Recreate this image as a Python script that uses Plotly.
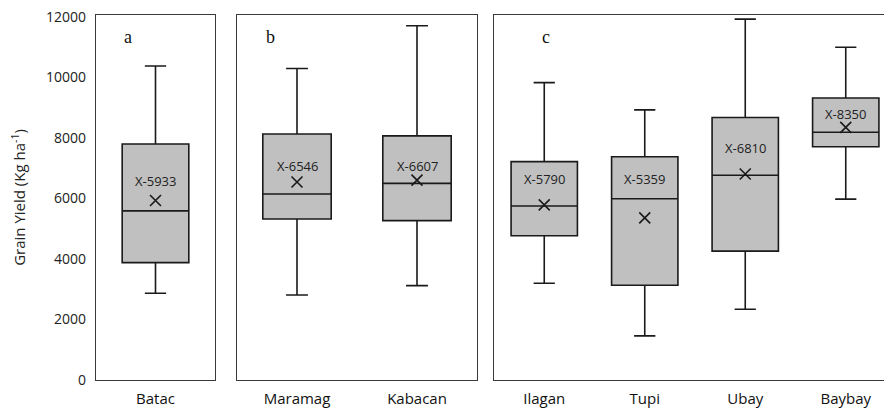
import plotly.graph_objects as go

# ---- data ----
panel_a = ["Batac"]
panel_b = ["Maramag", "Kabacan"]
panel_c = ["Ilagan", "Tupi", "Ubay", "Baybay"]

sites = panel_a + panel_b + panel_c
lower = [2870, 2810, 3120, 3200, 1460, 2340, 5980]
q1 = [3880, 5320, 5270, 4770, 3130, 4260, 7710]
median = [5590, 6150, 6500, 5750, 5990, 6770, 8190]
q3 = [7800, 8130, 8070, 7220, 7380, 8680, 9320]
upper = [10380, 10300, 11710, 9830, 8930, 11930, 11000]
mean = [5933, 6546, 6607, 5790, 5359, 6810, 8350]
panel_letters = ["a", "b", "c"]
y_ticks = [0, 2000, 4000, 6000, 8000, 10000, 12000]
y_tick_text = [str(v) for v in y_ticks]

# ---- styling ----
OFF = 8  # page body margin
W, H = 892 - OFF, 409 - OFF
label_shift = [20, 16, 14, 26, 39, 26, 13]  # pixel offset of mean label above marker
letter_shift = [-28, -27, 2]
panels = [
    (panel_a, (96, 215), "x", "y", 0.56),
    (panel_b, (237, 477), "x2", "y2", 0.57),
    (panel_c, (494, 896), "x3", "y3", 0.66),
]
y_top_px, y_bot_px = 15, 380
ymax = 12000 * (y_bot_px - y_top_px) / (y_bot_px - 17)

fig = go.Figure()
layout = dict(
    width=W, height=H, template="none",
    margin=dict(l=0, r=0, t=0, b=0),
    paper_bgcolor="white", plot_bgcolor="white",
    showlegend=False,
    font=dict(family="Open Sans, Liberation Sans, sans-serif", size=13, color="#222"),
)
line_col = "#3a3a3a"
dark = "#1a1a1a"
annotations = []
for p, (cats, (x0, x1), xa, ya, bw) in enumerate(panels):
    for c in cats:
        i = sites.index(c)
        fig.add_trace(go.Box(
            x=[c], q1=[q1[i]], median=[median[i]], q3=[q3[i]],
            lowerfence=[lower[i]], upperfence=[upper[i]],
            fillcolor="#c0c0c0", line=dict(color=dark, width=1.6),
            width=bw, whiskerwidth=0.32, boxpoints=False,
            xaxis=xa, yaxis=ya, hoverinfo="skip",
        ))
        fig.add_trace(go.Scatter(
            x=[c], y=[mean[i]], mode="markers",
            marker=dict(symbol="x-thin-open", size=11, color=dark,
                        line=dict(color=dark, width=1.6)),
            xaxis=xa, yaxis=ya, hoverinfo="skip",
        ))
        annotations.append(dict(
            x=c, y=mean[i], xref=xa, yref=ya, text=f"X-{mean[i]}",
            showarrow=False, yshift=label_shift[i], font=dict(size=13, color="#222"),
        ))
    xkey = "xaxis" if xa == "x" else "xaxis" + xa[1:]
    ykey = "yaxis" if ya == "y" else "yaxis" + ya[1:]
    fx0, fx1 = x0 - OFF, x1 - OFF
    cat_w = (fx1 - fx0) / len(cats)
    vis_x1 = min(fx1, W)
    layout[xkey] = dict(
        domain=[fx0 / W, vis_x1 / W], anchor=ya, type="category",
        categoryorder="array", categoryarray=cats,
        range=[-0.5, -0.5 + (vis_x1 - fx0) / cat_w], showgrid=False, zeroline=False,
        showline=True, mirror=True, linecolor=line_col, linewidth=1.2,
        ticks="", ticklabelstandoff=5, tickfont=dict(size=15, color="#111"),
    )
    layout[ykey] = dict(
        domain=[1 - (y_bot_px - OFF) / H, 1 - (y_top_px - OFF) / H], anchor=xa,
        range=[0, ymax], showgrid=False, zeroline=False,
        showline=True, mirror=(fx1 <= W), linecolor=line_col, linewidth=1.2,
        showticklabels=(p == 0), tickvals=y_ticks, ticktext=y_tick_text, ticks="",
        ticklabelstandoff=6, ticklabeloverflow="allow",
        tickfont=dict(size=14, color="#222"),
    )
    annotations.append(dict(
        x=cats[0], y=11330, xref=xa, yref=ya, text=panel_letters[p],
        showarrow=False, xshift=letter_shift[p],
        font=dict(family="Liberation Serif, Times New Roman, serif", size=18, color="#111"),
    ))

layout["yaxis"]["title"] = dict(text="Grain Yield (Kg ha<sup>-1</sup>)",
                                font=dict(size=15, color="#222"), standoff=16)
layout["annotations"] = annotations
fig.update_layout(**layout)
fig.write_html("out.html")
